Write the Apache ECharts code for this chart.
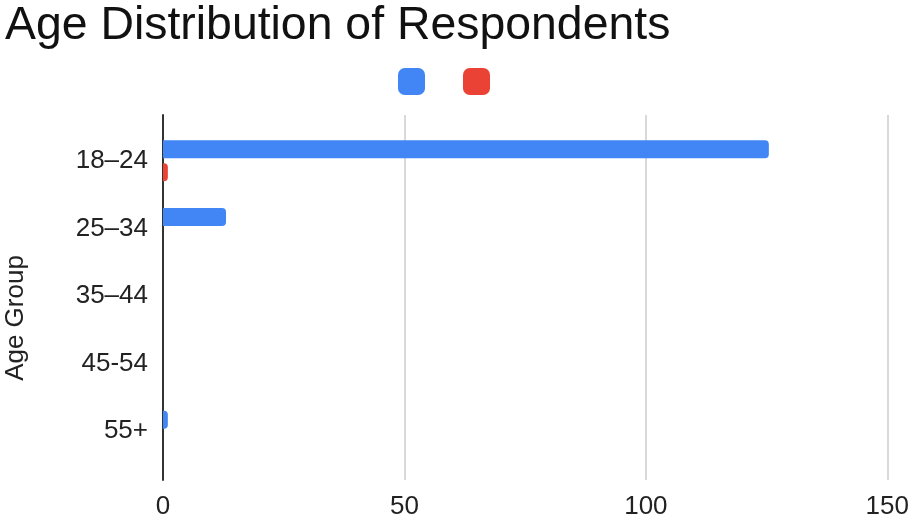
<!DOCTYPE html>
<html>
<head>
<meta charset="utf-8">
<style>
  html, body { margin: 0; padding: 0; background: #ffffff; }
  #chart { width: 912px; height: 521px; }
</style>
<script src="https://cdn.jsdelivr.net/npm/echarts@6/dist/echarts.min.js"></script>
</head>
<body>
<div id="chart"></div>
<script>
// Age groups shown on the vertical axis (top to bottom)
const ageGroups = ['18–24', '25–34', '35–44', '45-54', '55+'];
// Respondent counts per age group
const seriesBlue = [125, 13, 0, 0, 1];
const seriesRed = [1, 0, 0, 0, 0];
// Horizontal axis ticks
const xTicks = [0, 50, 100, 150];

const FONT = "'Liberation Sans', Arial, sans-serif";
const xMin = xTicks[0];
const xMax = xTicks[xTicks.length - 1];
const xStep = xTicks[1] - xTicks[0];

const chart = echarts.init(document.getElementById('chart'), null, { renderer: 'canvas' });

chart.setOption({
  animation: false,
  backgroundColor: '#ffffff',
  title: {
    text: 'Age Distribution of Respondents',
    left: 0,
    top: -2,
    textStyle: { fontFamily: FONT, fontSize: 46.4, fontWeight: 'normal', color: '#111111' }
  },
  legend: {
    left: 398,
    top: 68,
    padding: 0,
    itemWidth: 27,
    itemHeight: 27,
    itemGap: 38,
    icon: 'roundRect',
    formatter: () => '',
    textStyle: { fontSize: 1 },
    data: ['Blue', 'Red']
  },
  graphic: [{
    type: 'text',
    x: 16,
    y: 318,
    rotation: Math.PI / 2,
    style: {
      text: 'Age Group',
      fontFamily: FONT,
      fontSize: 26,
      fill: '#222222',
      align: 'center',
      verticalAlign: 'middle'
    }
  }],
  grid: [
    // frame: gridlines, value labels and the vertical axis line
    { left: 163, right: 22, top: 115, bottom: 41, containLabel: false },
    // bar area
    { left: 163, right: 22, top: 127, bottom: 56, containLabel: false }
  ],
  xAxis: [
    {
      gridIndex: 0,
      type: 'value',
      min: xMin, max: xMax, interval: xStep,
      axisLine: { show: false },
      axisTick: { show: false },
      axisLabel: { fontFamily: FONT, fontSize: 26, color: '#222222', margin: 14 },
      splitLine: { show: true, lineStyle: { color: '#cccccc', width: 1.5 } }
    },
    {
      gridIndex: 1,
      type: 'value',
      min: xMin, max: xMax, interval: xStep,
      show: false
    }
  ],
  yAxis: [
    {
      gridIndex: 0,
      type: 'category',
      data: ageGroups,
      inverse: true,
      axisLine: { show: true, lineStyle: { color: '#333333', width: 2 } },
      axisTick: { show: false },
      axisLabel: { show: false },
      splitLine: { show: false }
    },
    {
      gridIndex: 1,
      type: 'category',
      data: ageGroups,
      inverse: true,
      axisLine: { show: false },
      axisTick: { show: false },
      axisLabel: { fontFamily: FONT, fontSize: 26, color: '#222222', margin: 15 },
      splitLine: { show: false }
    }
  ],
  series: [
    {
      name: 'Blue',
      type: 'bar',
      xAxisIndex: 1,
      yAxisIndex: 1,
      data: seriesBlue,
      barWidth: 18,
      barGap: '28%',
      itemStyle: { color: '#4285F4', borderRadius: [0, 4, 4, 0] }
    },
    {
      name: 'Red',
      type: 'bar',
      xAxisIndex: 1,
      yAxisIndex: 1,
      data: seriesRed,
      barWidth: 18,
      barGap: '28%',
      itemStyle: { color: '#EA4335', borderRadius: [0, 4, 4, 0] }
    }
  ]
});
</script>
</body>
</html>
